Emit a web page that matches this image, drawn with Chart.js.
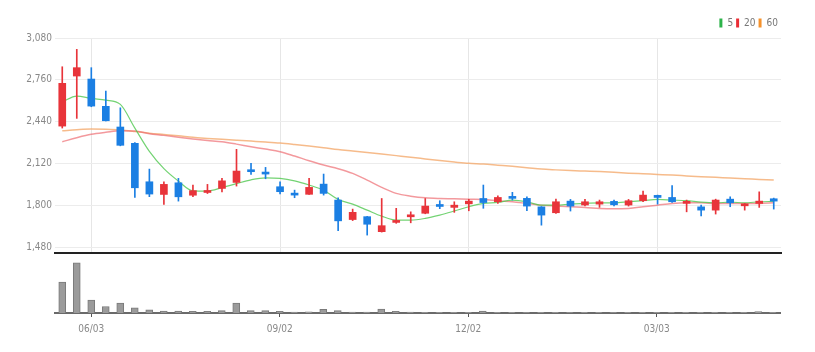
<!DOCTYPE html>
<html lang="en">
<head>
  <meta charset="UTF-8" />
  <title>Weekly Price Chart</title>
  <script src="https://cdn.jsdelivr.net/npm/chart.js"></script>
  <style>
    body { margin: 0; background: #fff; }
    #wrap { position: relative; width: 815px; height: 352px; }
    #priceBox { position: absolute; left: 0; top: 0; width: 815px; height: 262px; }
    #volBox { position: absolute; left: 0; top: 253px; width: 815px; height: 99px; }
  </style>
</head>
<body>
  <div id="wrap">
    <div id="priceBox"><canvas id="priceChart"></canvas></div>
    <div id="volBox"><canvas id="volChart"></canvas></div>
  </div>

  <script>
    // weekly candles, 2024-05-20 .. 2025-04-28
    const weeks = ['05/20','05/27','06/03','06/10','06/17','06/24','07/01','07/08','07/15','07/22',
      '07/29','08/05','08/12','08/19','08/26','09/02','09/09','09/16','09/23','09/30',
      '10/07','10/14','10/21','10/28','11/04','11/11','11/18','11/25','12/02','12/09',
      '12/16','12/23','12/30','01/06','01/13','01/20','01/27','02/03','02/10','02/17',
      '02/24','03/03','03/10','03/17','03/24','03/31','04/07','04/14','04/21','04/28'];
    const tickLabels = ['06/03', '09/02', '12/02', '03/03'];
    const yTicks = [1480, 1800, 2120, 2440, 2760, 3080];

    const openP = [2406,2789,2766,2557,2399,2274,1980,1883,1972,1877,
      1898,1929,1975,2069,2049,1942,1890,1884,1962,1840,
      1691,1713,1598,1669,1712,1739,1801,1784,1811,1852,
      1827,1865,1853,1788,1743,1832,1802,1809,1830,1802,
      1835,1876,1860,1815,1788,1763,1847,1796,1814,1850];
    const highP = [2860,2993,2853,2674,2546,2280,2077,1980,2006,1955,
      1960,2007,2228,2121,2090,1980,1916,2006,2039,1857,
      1771,1715,1852,1777,1750,1852,1835,1827,1846,1955,
      1872,1899,1865,1790,1847,1845,1845,1840,1840,1845,
      1909,1878,1950,1840,1801,1847,1865,1814,1903,1855];
    const lowP = [2391,2465,2554,2445,2255,1860,1866,1807,1832,1866,
      1890,1903,1947,2037,2003,1887,1858,1883,1878,1605,
      1683,1572,1595,1662,1666,1735,1774,1746,1758,1777,
      1814,1840,1758,1648,1738,1756,1795,1784,1796,1794,
      1827,1809,1822,1750,1718,1733,1789,1763,1784,1771];
    const closeP = [2733,2853,2559,2447,2259,1934,1886,1960,1865,1912,
      1912,1987,2062,2057,2039,1904,1878,1937,1891,1681,
      1746,1655,1644,1683,1727,1794,1791,1801,1832,1821,
      1860,1853,1794,1725,1827,1794,1827,1827,1804,1835,
      1878,1860,1827,1827,1763,1840,1819,1809,1832,1832];

    const ma5 = [2592,2636,2618,2605,2572,2390,2212,2080,1985,1911,
      1909,1935,1966,1995,2010,2006,1987,1955,1915,1845,
      1809,1763,1717,1687,1687,1700,1725,1756,1789,1815,
      1822,1840,1827,1801,1801,1809,1814,1819,1819,1827,
      1835,1845,1840,1835,1824,1819,1824,1819,1827,1830];
    const ma20 = [2286,2317,2343,2358,2370,2368,2348,2335,2320,2307,
      2296,2286,2268,2248,2230,2210,2177,2141,2108,2080,
      2044,1993,1937,1891,1870,1857,1852,1850,1847,1845,
      1835,1827,1814,1801,1794,1788,1784,1776,1773,1776,
      1788,1801,1814,1819,1819,1814,1814,1814,1814,1819];
    const ma60 = [2370,2378,2383,2381,2376,2365,2352,2342,2332,2320,
      2312,2305,2298,2291,2284,2276,2265,2253,2240,2226,
      2215,2204,2192,2180,2168,2155,2142,2131,2121,2116,
      2107,2098,2088,2077,2071,2066,2062,2058,2053,2046,
      2041,2036,2031,2025,2019,2014,2008,2003,1998,1993];

    const volume = [320,520,134,67,104,54,34,20,20,17,
      17,24,104,24,24,17,10,13,37,24,
      10,10,40,17,10,8,8,8,8,20,
      8,8,6,8,8,6,8,8,6,8,
      8,8,8,8,8,8,8,8,14,8];

    const UP = '#e8343a';
    const DOWN = '#1b7fe3';
    const candleColors = closeP.map((c, i) => (c >= openP[i] ? UP : DOWN));
    const font = "'Liberation Sans Narrow', 'DejaVu Sans Condensed', sans-serif";
    const isLabelWeek = i => tickLabels.includes(weeks[i]);

    new Chart(document.getElementById('priceChart'), {
      type: 'bar',
      data: {
        labels: weeks,
        datasets: [
          { type: 'line', label: '5', data: ma5, borderColor: 'rgba(80,200,80,0.8)', backgroundColor: '#2db34a',
            borderWidth: 1.2, pointRadius: 0, cubicInterpolationMode: 'monotone', order: 3 },
          { type: 'line', label: '20', data: ma20, borderColor: 'rgba(238,110,115,0.7)', backgroundColor: '#ea2d35',
            borderWidth: 1.5, pointRadius: 0, cubicInterpolationMode: 'monotone', order: 4 },
          { type: 'line', label: '60', data: ma60, borderColor: 'rgba(244,170,110,0.8)', backgroundColor: '#f5922c',
            borderWidth: 1.5, pointRadius: 0, cubicInterpolationMode: 'monotone', order: 5 },
          { label: 'wick', data: lowP.map((l, i) => [l, highP[i]]), backgroundColor: candleColors,
            barThickness: 1, grouped: false, order: 2 },
          { label: 'body', data: openP.map((o, i) => [o, closeP[i]]), backgroundColor: candleColors,
            barThickness: 7, grouped: false, minBarLength: 2, order: 1 }
        ]
      },
      options: {
        responsive: true,
        maintainAspectRatio: false,
        animation: false,
        layout: { padding: { left: 0, right: 34, top: 15, bottom: 2 } },
        plugins: {
          tooltip: { enabled: false },
          legend: {
            position: 'top',
            align: 'end',
            labels: {
              boxWidth: 3,
              boxHeight: 9,
              padding: 3,
              color: '#777',
              font: { family: font, size: 10 },
              generateLabels: chart => chart.data.datasets
                .filter(d => d.type === 'line')
                .map(d => ({
                  text: d.label,
                  fillStyle: d.backgroundColor,
                  strokeStyle: d.backgroundColor,
                  lineWidth: 0,
                  fontColor: '#777',
                  hidden: false,
                  datasetIndex: chart.data.datasets.indexOf(d)
                }))
            }
          }
        },
        scales: {
          x: {
            offset: true,
            grid: {
              offset: false,
              drawTicks: false,
              color: c => (isLabelWeek(c.index) ? '#e6e6e6' : 'rgba(0,0,0,0)')
            },
            ticks: { display: false, autoSkip: false },
            border: { display: true, color: '#222', width: 2 }
          },
          y: {
            min: 1435,
            max: 3080,
            afterBuildTicks: s => { s.ticks = yTicks.map(v => ({ value: v })); },
            afterFit: s => { s.width = 55; },
            grid: { color: '#ececec', drawTicks: false },
            border: { display: false },
            ticks: {
              color: '#888',
              padding: 3,
              font: { family: font, size: 10 },
              callback: v => v.toLocaleString('en-US')
            }
          }
        }
      }
    });

    new Chart(document.getElementById('volChart'), {
      type: 'bar',
      data: {
        labels: weeks,
        datasets: [{
          label: 'volume',
          data: volume,
          backgroundColor: '#9b9b9b',
          borderColor: '#7a7a7a',
          borderWidth: 1,
          barThickness: 7
        }]
      },
      options: {
        responsive: true,
        maintainAspectRatio: false,
        animation: false,
        layout: { padding: { left: 55, right: 35, top: 4, bottom: 11 } },
        plugins: { legend: { display: false }, tooltip: { enabled: false } },
        scales: {
          x: {
            offset: true,
            grid: {
              offset: false,
              drawOnChartArea: false,
              tickLength: 4,
              tickColor: c => (isLabelWeek(c.index) ? '#555' : 'rgba(0,0,0,0)')
            },
            border: { color: '#6a6a6a', width: 2 },
            ticks: {
              autoSkip: false,
              maxRotation: 0,
              padding: 6,
              color: '#888',
              font: { family: font, size: 10 },
              callback: (v, i) => (isLabelWeek(i) ? weeks[i] : '')
            }
          },
          y: { display: false, min: 0, max: 580 }
        }
      }
    });
  </script>
</body>
</html>
